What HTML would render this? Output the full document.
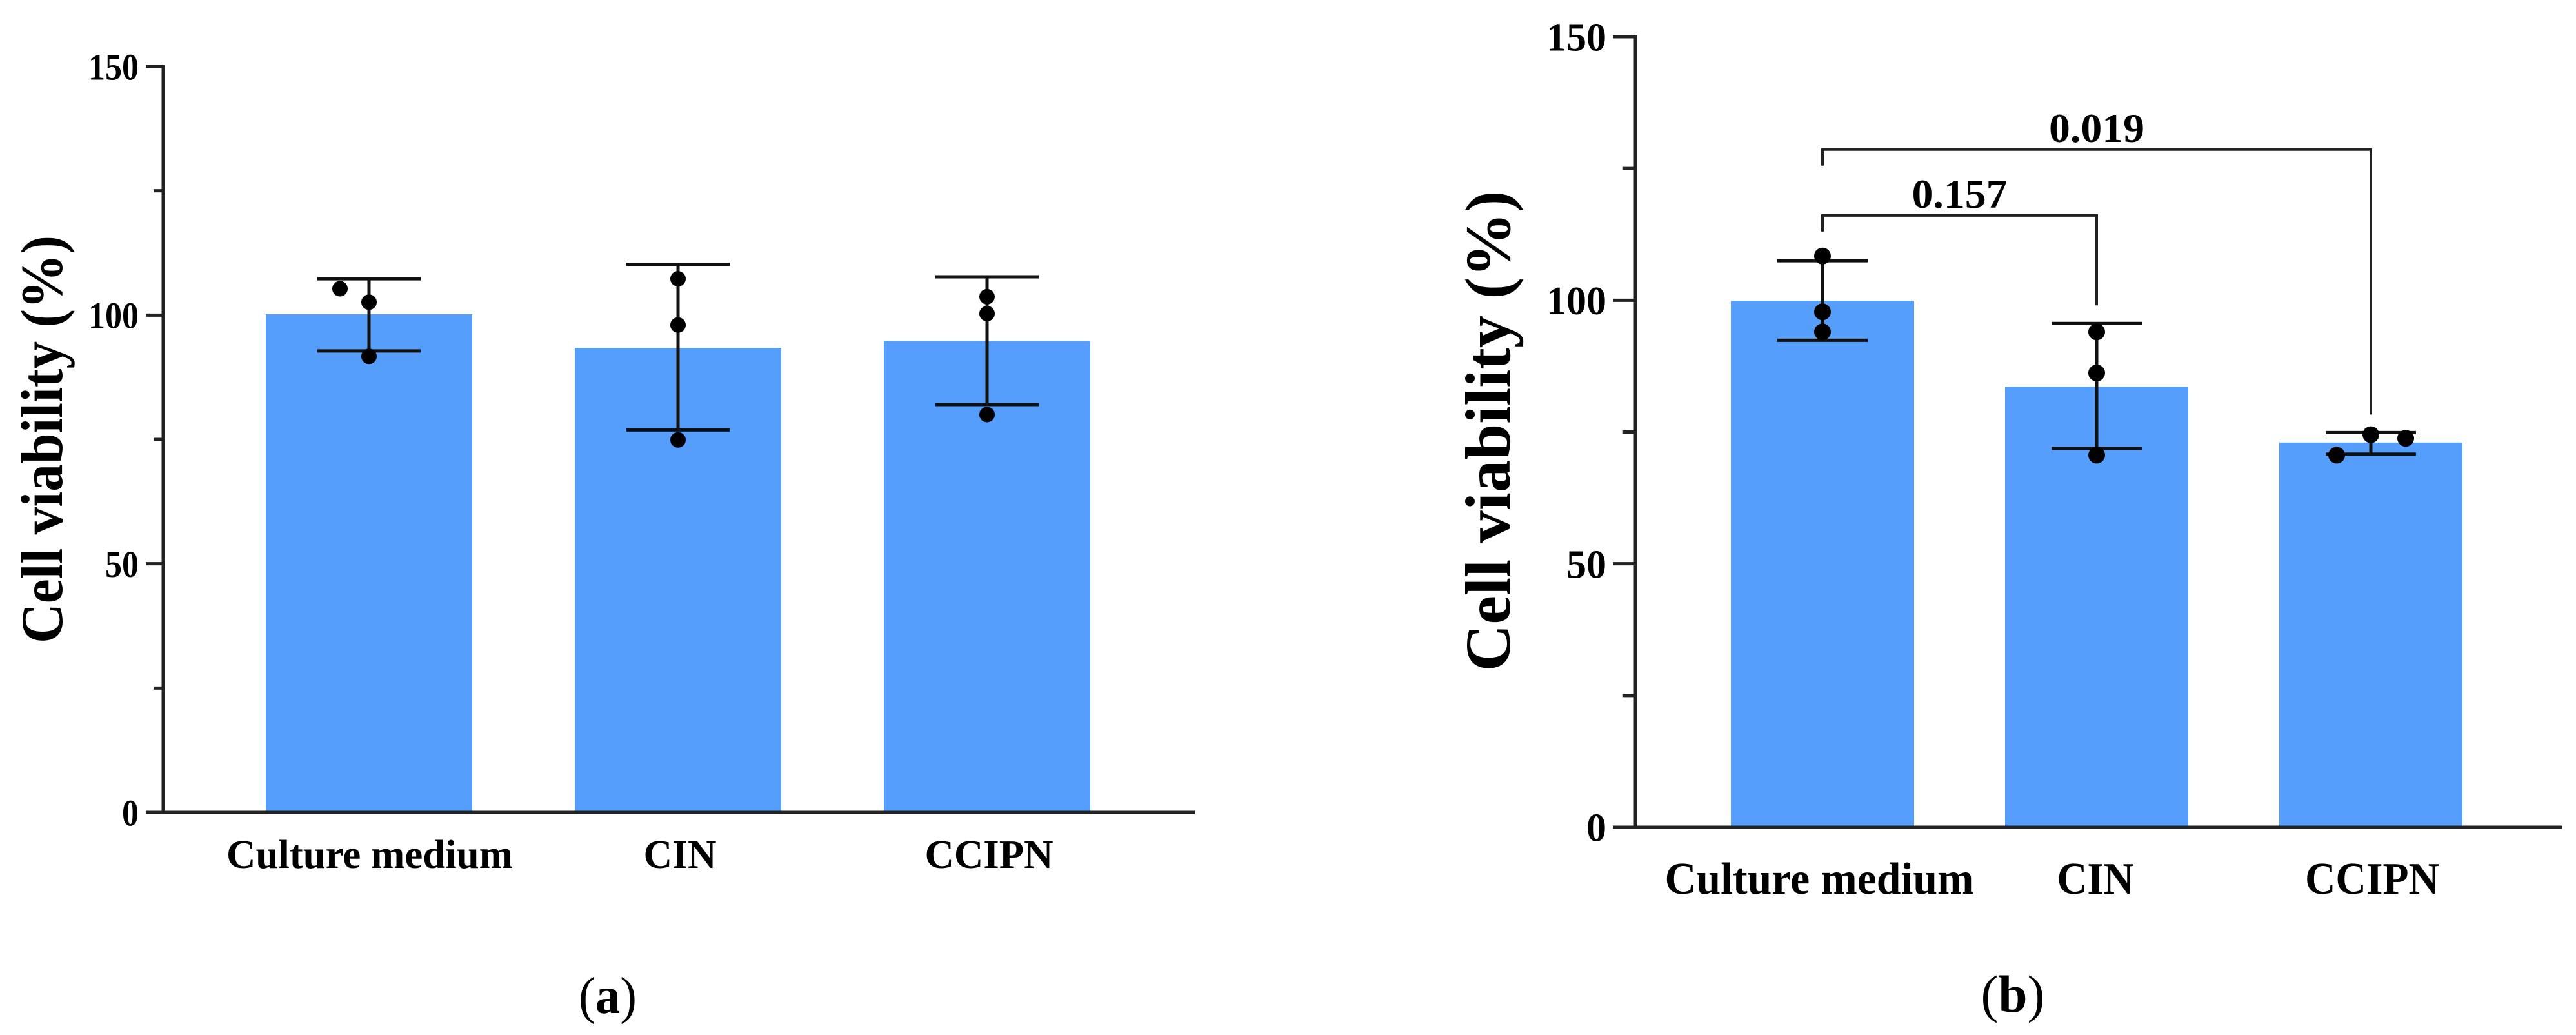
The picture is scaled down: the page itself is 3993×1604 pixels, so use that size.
<!DOCTYPE html>
<html><head><meta charset="utf-8">
<style>
html,body{margin:0;padding:0;background:#fff;}
svg{display:block;}
text{font-family:"Liberation Serif","Times New Roman",serif;font-weight:bold;fill:#000;}
</style></head>
<body>
<svg id="fig" width="3993" height="1604" viewBox="0 0 3993 1604" xmlns="http://www.w3.org/2000/svg">
<g id="pa"></g>
<g id="pb"></g>
</svg>
<script>
const categories = ["Culture medium", "CIN", "CCIPN"];
const yTicks = [0, 50, 100, 150];
const yMinorTicks = [25, 75, 125];
const meansA = [100.2, 93.4, 94.8];
const errHiA = [107.3, 110.2, 107.7];
const errLoA = [92.8, 76.9, 82.0];
const pointsA = [[105.3, 102.6, 91.7], [107.3, 98.0, 74.9], [103.7, 100.3, 80.0]];
const meansB = [99.9, 83.6, 73.0];
const errHiB = [107.5, 95.6, 74.9];
const errLoB = [92.4, 71.9, 70.8];
const pointsB = [[108.4, 97.8, 94.0], [94.0, 86.2, 70.6], [70.6, 74.5, 73.8]];
const compLabels = ["0.157", "0.019"];
const compTargets = [1, 2];
const compLevels = [116.1, 128.6];

const NS = "http://www.w3.org/2000/svg";
function mk(parent, tag, attrs, txt) {
  const e = document.createElementNS(NS, tag);
  for (const k in attrs) e.setAttribute(k, attrs[k]);
  if (txt !== undefined) e.textContent = txt;
  parent.appendChild(e);
  return e;
}

function drawPanel(g, cfg) {
  const y = v => cfg.y0 - (v / 150) * (cfg.y0 - cfg.y150);
  const x = i => cfg.xc0 + i * cfg.dx;
  const AX = "#222";
  // bars
  cfg.means.forEach((m, i) => {
    const r = mk(g, "rect", {x: x(i) - cfg.bw / 2, y: y(m), width: cfg.bw, height: y(0) - y(m), fill: "#559EFC"});
    
    
  });
  // error bars
  cfg.means.forEach((m, i) => {
    const eg = mk(g, "g", {stroke: "#111", "stroke-width": 5});
    
    
    mk(eg, "line", {x1: x(i), x2: x(i), y1: y(cfg.hi[i]), y2: y(cfg.lo[i])});
    mk(eg, "line", {x1: x(i) - cfg.cap, x2: x(i) + cfg.cap, y1: y(cfg.hi[i]), y2: y(cfg.hi[i])});
    mk(eg, "line", {x1: x(i) - cfg.cap, x2: x(i) + cfg.cap, y1: y(cfg.lo[i]), y2: y(cfg.lo[i])});
  });
  // points
  cfg.pts.forEach((arr, i) => {
    arr.forEach((v, j) => {
      const c = mk(g, "circle", {cx: x(i) + cfg.jit[i][j], cy: y(v), r: cfg.pr, fill: "#000"});
      
      
    });
  });
  // axes
  const ax = mk(g, "g", {stroke: AX, "stroke-width": 5});
  
  
  mk(ax, "line", {x1: cfg.ax, x2: cfg.ax, y1: y(150) - 2, y2: y(0)});
  mk(ax, "line", {x1: cfg.ax, x2: cfg.xend, y1: y(0), y2: y(0)});
  yTicks.forEach(t => mk(ax, "line", {x1: cfg.ax - cfg.tl, x2: cfg.ax, y1: y(t), y2: y(t)}));
  yMinorTicks.forEach(t => mk(ax, "line", {x1: cfg.ax - cfg.tl * 0.55, x2: cfg.ax, y1: y(t), y2: y(t)}));
  yTicks.forEach(t => {
    const s = String(t);
    const tx = mk(g, "text", {x: cfg.tlx, y: y(t) + cfg.tfs * 0.35, "text-anchor": "end", "font-size": cfg.tfs,
      textLength: cfg.tw * s.length, lengthAdjust: "spacingAndGlyphs"}, s);
    
    
  });
  categories.forEach((c, i) => {
    const tx = mk(g, "text", {x: cfg.labX[i], y: cfg.labY, "text-anchor": "middle", "font-size": cfg.lfs,
      textLength: cfg.labW[i], lengthAdjust: "spacingAndGlyphs"}, c);
    
    
  });
  const tt = mk(g, "text", {x: 0, y: 0, "text-anchor": "middle", "font-size": cfg.yfs,
    transform: `translate(${cfg.ytx},${cfg.yty}) rotate(-90)`, textLength: cfg.ytl, lengthAdjust: "spacingAndGlyphs"}, "Cell viability (%)");
  
  
  const pl = mk(g, "text", {x: cfg.plx, y: cfg.ply, "text-anchor": "middle", "font-size": cfg.pfs, "font-weight": "normal",
    textLength: cfg.plw, lengthAdjust: "spacingAndGlyphs"});
  
  
  mk(pl, "tspan", {"font-weight": "normal"}, "(");
  mk(pl, "tspan", {"font-weight": "bold"}, cfg.letter);
  mk(pl, "tspan", {"font-weight": "normal"}, ")");
  return {x, y};
}

drawPanel(document.getElementById("pa"), {
  y0: 1259, y150: 103, xc0: 572, dx: 479, bw: 320, cap: 80, pr: 12,
  means: meansA, hi: errHiA, lo: errLoA, pts: pointsA,
  jit: [[-45, 0, 0], [0, 0, 0], [0, 0, 0]],
  ax: 253, xend: 1852, tl: 27, tlx: 215, tfs: 58, tw: 26,
  labX: [573, 1054, 1533], labY: 1345, lfs: 62, labW: [444, 113, 199],
  yfs: 92, ytx: 96, yty: 681, ytl: 632,
  plx: 942, ply: 1570, pfs: 80, plw: 90, letter: "a"
});
const B = drawPanel(document.getElementById("pb"), {
  y0: 1282, y150: 57, xc0: 2825, dx: 425, bw: 284, cap: 70, pr: 13,
  means: meansB, hi: errHiB, lo: errLoB, pts: pointsB,
  jit: [[0, 0, 0], [0, 0, 0], [-53, 0, 54]],
  ax: 2535, xend: 3971, tl: 35, tlx: 2490, tfs: 62, tw: 31,
  labX: [2820, 3248, 3677], labY: 1385, lfs: 70, labW: [479, 119, 208],
  yfs: 100, ytx: 2340, yty: 668, ytl: 745,
  plx: 3120, ply: 1568, pfs: 82, plw: 99, letter: "b"
});
// comparison brackets
const pb = document.getElementById("pb");
compLabels.forEach((lab, k) => {
  const g = mk(pb, "g", {});
  
  
  const xl = B.x(0), xr = B.x(compTargets[k]);
  const yl = B.y(compLevels[k]);
  const leftEnd = yl + 25;
  const rightEnd = B.y(errHiB[compTargets[k]]) - 28;
  mk(g, "polyline", {points: `${xl},${leftEnd} ${xl},${yl} ${xr},${yl} ${xr},${rightEnd}`, fill: "none", stroke: "#222", "stroke-width": 4});
  const t = mk(g, "text", {x: (xl + xr) / 2, y: yl - 12, "text-anchor": "middle", "font-size": 64, textLength: 148, lengthAdjust: "spacingAndGlyphs"}, lab);
  
  
});
</script>
</body></html>
